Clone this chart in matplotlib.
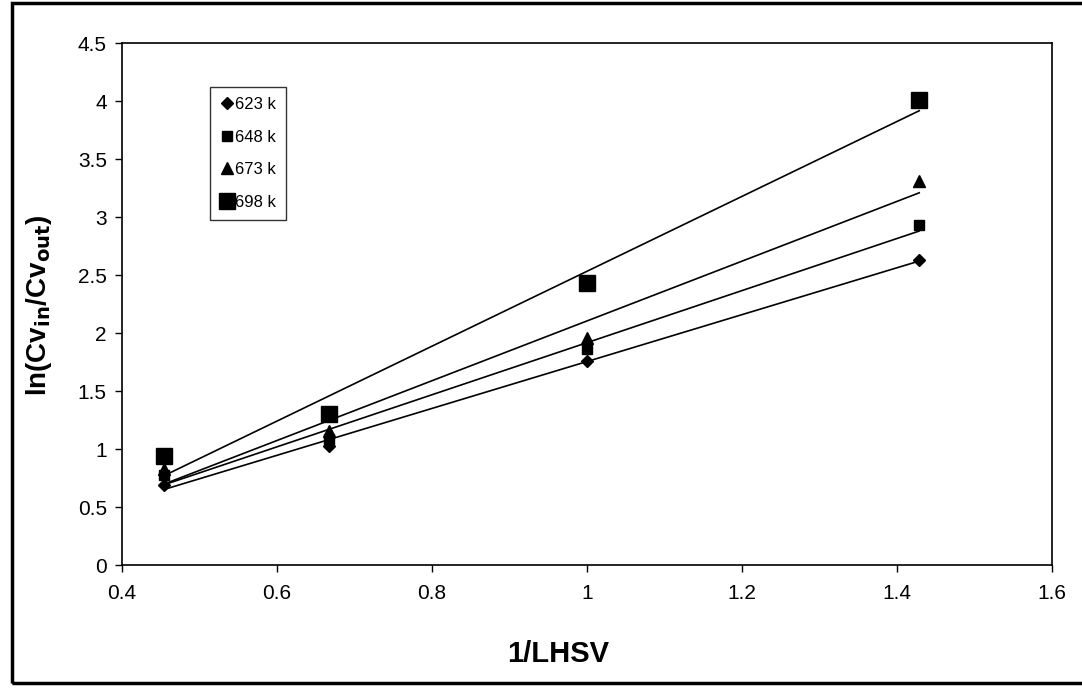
import numpy as np
import matplotlib.pyplot as plt
from matplotlib.patches import Rectangle

plt.rcParams['font.family'] = ['Liberation Sans', 'DejaVu Sans']

# 1/LHSV for LHSV = 2.2, 1.5, 1.0, 0.7
inv_lhsv = [0.4545, 0.6667, 1.0, 1.4286]

temps = ['623 k', '648 k', '673 k', '698 k']
ln_623 = [0.69, 1.03, 1.76, 2.63]
ln_648 = [0.78, 1.09, 1.86, 2.93]
ln_673 = [0.83, 1.16, 1.96, 3.31]
ln_698 = [0.94, 1.30, 2.43, 4.01]

series = [ln_623, ln_648, ln_673, ln_698]
markers = ['D', 's', '^', 's']
msizes = [6, 7, 9, 12]

fig = plt.figure(figsize=(10.82, 6.92), dpi=100)
ax = fig.add_axes([0.1128, 0.1835, 0.8595, 0.754])

x = np.array(inv_lhsv)
for ys, name, m, ms in zip(series, temps, markers, msizes):
    ax.plot(x, ys, linestyle='none', marker=m, markersize=ms, color='black', label=name)
    # linear trendline over the measured range
    k, b = np.polyfit(x, ys, 1)
    ax.plot(x[[0, -1]], k * x[[0, -1]] + b, color='black', linewidth=1.2)

ax.set_xlim(0.4, 1.6)
ax.set_ylim(0, 4.5)
ax.set_xticks(np.arange(0.4, 1.61, 0.2))
ax.set_xticklabels(['0.4', '0.6', '0.8', '1', '1.2', '1.4', '1.6'])
ax.set_yticks(np.arange(0, 4.51, 0.5))
ax.set_yticklabels(['0', '0.5', '1', '1.5', '2', '2.5', '3', '3.5', '4', '4.5'])
ax.tick_params(direction='out', length=5, width=1, labelsize=15)
ax.tick_params(axis='x', pad=9)
ax.tick_params(axis='y', pad=6)
for s in ax.spines.values():
    s.set_linewidth(1.2)

ax.set_xlabel('1/LHSV', fontsize=21, fontweight='bold')
ax.set_ylabel(r'ln(Cv$_{\mathbf{in}}$/Cv$_{\mathbf{out}}$)', fontsize=20,
              fontweight='bold')
ax.xaxis.set_label_coords(0.469, -0.144)
ax.yaxis.set_label_coords(-0.073, 0.498)

leg = ax.legend(loc='upper left', bbox_to_anchor=(0.0946, 0.916), fontsize=12,
                frameon=True, fancybox=False, edgecolor='black',
                handlelength=0.8, handletextpad=0.1, labelspacing=1.05,
                borderpad=0.6, borderaxespad=0)
leg.get_frame().set_linewidth(1.0)

# outer chart border
fig.patches.append(Rectangle((0.011, 0.013), 1.1, 0.983, transform=fig.transFigure,
                             fill=False, edgecolor='black', linewidth=2.5))

fig.savefig('out.png', dpi=100)
